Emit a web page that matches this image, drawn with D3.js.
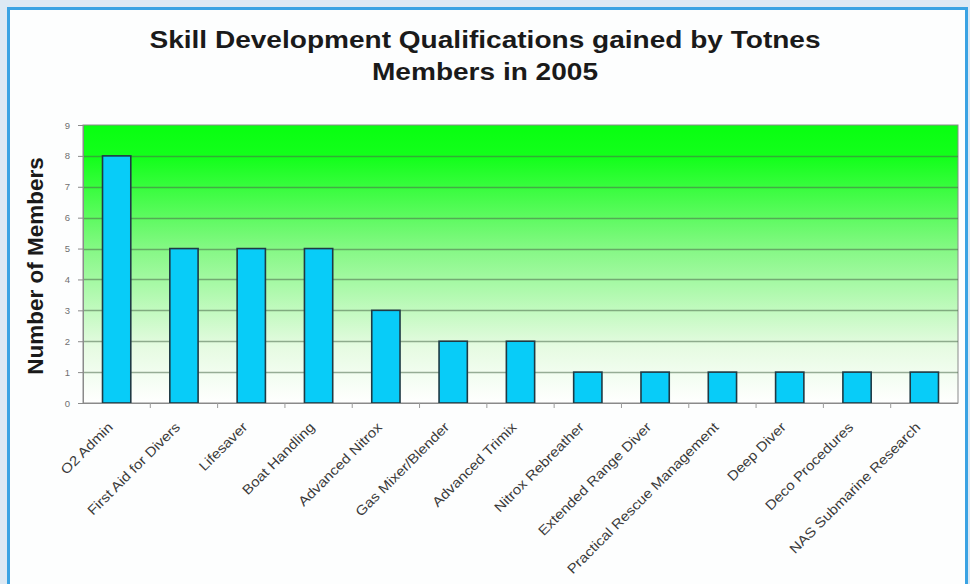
<!DOCTYPE html>
<html>
<head>
<meta charset="utf-8">
<script src="https://cdn.jsdelivr.net/npm/d3@7"></script>
<style>
  html, body { margin: 0; padding: 0; background: #dce9f4; }
  svg { display: block; }
</style>
</head>
<body>
<svg id="chart" width="970" height="584"></svg>
<script>
// Qualifications gained and how many members earned each
const categories = [
  "O2 Admin", "First Aid for Divers", "Lifesaver", "Boat Handling",
  "Advanced Nitrox", "Gas Mixer/Blender", "Advanced Trimix", "Nitrox Rebreather",
  "Extended Range Diver", "Practical Rescue Management", "Deep Diver",
  "Deco Procedures", "NAS Submarine Research"
];
const members = [8, 5, 5, 5, 3, 2, 2, 1, 1, 1, 1, 1, 1];
const yTicks = [0, 1, 2, 3, 4, 5, 6, 7, 8, 9];
const titleLines = ["Skill Development Qualifications gained by Totnes", "Members in 2005"];
const yAxisTitle = "Number of Members";

const svg = d3.select("#chart");
const W = 970, H = 584;
const FONT = "Liberation Sans, Arial, Helvetica, sans-serif";
const STRETCH = 1.22;      // title text is drawn a little wide
const LABEL_STRETCH = 1.13; // category labels too, along their baseline

// page backdrop and framed white panel
svg.append("rect").attr("width", W).attr("height", H).attr("fill", "#dce9f4");
svg.append("rect")
  .attr("x", 8.5).attr("y", 8.5).attr("width", 958).attr("height", 590)
  .attr("fill", "#fdfefe").attr("stroke", "#3aa3e3").attr("stroke-width", 3);

const plot = { left: 83, right: 958, top: 125, bottom: 403 };

const x = d3.scaleBand().domain(categories).range([plot.left, plot.right]).paddingInner(0).paddingOuter(0);
const y = d3.scaleLinear().domain([0, 9]).range([plot.bottom, plot.top]);

// green-to-white backdrop of the plotting area
const defs = svg.append("defs");
const grad = defs.append("linearGradient").attr("id", "plotFill")
  .attr("x1", 0).attr("y1", 0).attr("x2", 0).attr("y2", 1);
grad.append("stop").attr("offset", "0%").attr("stop-color", "#08ff10");
grad.append("stop").attr("offset", "12%").attr("stop-color", "#14ff1c");
grad.append("stop").attr("offset", "45%").attr("stop-color", "#86f886");
grad.append("stop").attr("offset", "80%").attr("stop-color", "#e6fbe2");
grad.append("stop").attr("offset", "100%").attr("stop-color", "#ffffff");

svg.append("rect")
  .attr("x", plot.left).attr("y", plot.top)
  .attr("width", plot.right - plot.left).attr("height", plot.bottom - plot.top)
  .attr("fill", "url(#plotFill)")
  .attr("stroke", "#8a8a8a").attr("stroke-width", 1);

// horizontal gridlines
svg.append("g").selectAll("line")
  .data(yTicks.filter(t => t > 0 && t < 9))
  .join("line")
  .attr("x1", plot.left).attr("x2", plot.right)
  .attr("y1", d => Math.round(y(d)) + 0.5).attr("y2", d => Math.round(y(d)) + 0.5)
  .attr("stroke", "#4a6a4a").attr("stroke-opacity", 0.55).attr("stroke-width", 1.3);

// bars
svg.append("g").selectAll("rect")
  .data(categories.map((c, i) => ({ c, v: members[i] })))
  .join("rect")
  .attr("x", d => x(d.c) + x.bandwidth() * 0.29)
  .attr("width", x.bandwidth() * 0.42)
  .attr("y", d => y(d.v))
  .attr("height", d => y(0) - y(d.v))
  .attr("fill", "#08ccf8")
  .attr("stroke", "#1f3a44").attr("stroke-width", 1.6);

// y axis
const yAxis = svg.append("g")
  .attr("transform", `translate(${plot.left},0)`)
  .call(d3.axisLeft(y).tickValues(yTicks).tickSize(5).tickPadding(8));
yAxis.select(".domain").attr("stroke", "#8a8a8a");
yAxis.selectAll(".tick line").attr("stroke", "#8a8a8a");
yAxis.selectAll(".tick text")
  .attr("fill", "#707070").attr("font-family", FONT)
  .attr("font-size", 9.5);

// x axis with ticks on category boundaries
const xAxisG = svg.append("g").attr("transform", `translate(0,${plot.bottom})`);
xAxisG.append("line")
  .attr("x1", plot.left).attr("x2", plot.right).attr("y1", 0.5).attr("y2", 0.5)
  .attr("stroke", "#8a8a8a");
xAxisG.selectAll("line.tk")
  .data(categories.slice(1))
  .join("line").attr("class", "tk")
  .attr("x1", d => x(d)).attr("x2", d => x(d))
  .attr("y1", 0).attr("y2", 5)
  .attr("stroke", "#9a9a9a");
xAxisG.selectAll("text")
  .data(categories)
  .join("text")
  .attr("transform", d => `translate(${x(d) + x.bandwidth() / 2 - 3},${25}) rotate(-45) scale(${LABEL_STRETCH},1)`)
  .attr("text-anchor", "end")
  .attr("font-family", FONT)
  .attr("font-size", 13.5)
  .attr("fill", "#3a3a3a")
  .text(d => d);

// titles
const title = svg.append("g")
  .attr("font-family", FONT)
  .attr("font-weight", "bold").attr("font-size", 23)
  .attr("fill", "#1a1a1a");
title.selectAll("text").data(titleLines).join("text")
  .attr("text-anchor", "middle")
  .attr("transform", (d, i) => `translate(485,${48 + i * 32}) scale(${STRETCH},1)`)
  .text(d => d);

svg.append("text")
  .attr("transform", `translate(43,${266}) rotate(-90)`)
  .attr("text-anchor", "middle")
  .attr("font-family", FONT)
  .attr("font-weight", "bold").attr("font-size", 22.5)
  .attr("fill", "#1a1a1a")
  .text(yAxisTitle);
</script>
</body>
</html>
